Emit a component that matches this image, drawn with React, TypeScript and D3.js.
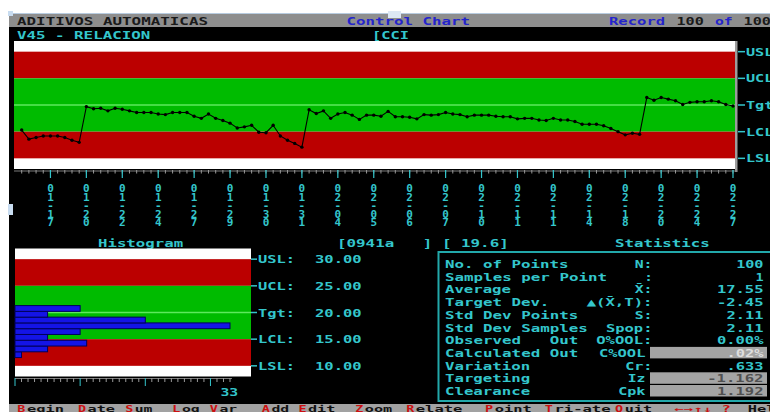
import React from "react";
import * as d3 from "d3";

// ---- Data ----
const values = [
  15.3, 13.6, 13.9, 14.2, 14.2, 14.2, 13.9, 13.4, 13.0, 19.7,
  19.3, 19.4, 18.9, 19.4, 19.2, 18.9, 18.6, 18.6, 18.6, 18.3,
  18.2, 18.6, 18.6, 18.6, 17.9, 17.5, 18.3, 17.5, 17.1, 16.6,
  15.7, 15.9, 16.2, 14.9, 14.8, 16.2, 14.2, 13.4, 12.8, 12.1,
  19.1, 18.4, 18.9, 17.5, 18.3, 18.6, 18.1, 17.3, 18.1, 18.1,
  17.9, 18.8, 17.8, 17.8, 17.7, 17.4, 18.2, 18.1, 18.2, 18.6,
  18.3, 18.2, 17.8, 18.1, 18.1, 18.1, 17.9, 17.8, 17.8, 17.4,
  17.5, 17.5, 17.2, 17.1, 17.5, 17.2, 17.2, 16.9, 16.4, 16.4,
  16.4, 16.1, 15.6, 15.0, 14.4, 14.7, 14.5, 21.4, 20.9, 21.4,
  21.1, 20.8, 20.1, 20.5, 20.6, 20.6, 20.8, 20.6, 20.1, 19.8,
];

const dateLabels = [
  "01-17", "01-20", "01-22", "01-24", "01-27", "01-29", "01-30", "01-31", "02-04", "02-05",
  "02-06", "02-07", "02-10", "02-11", "02-11", "02-14", "02-18", "02-20", "02-24", "02-27",
];
const labelEvery = 5;

const limitNames = ["USL", "UCL", "Tgt", "LCL", "LSL"];
const limitValues = [30, 25, 20, 15, 10];

// histogram: bins from low to high value
const histStart = 11.55;
const histBinWidth = 1.083;
const histCounts = [1, 5, 11, 5, 10, 33, 20, 5, 10];
const histMax = 33;

const statLabels = [
  "No. of Points", "Samples per Point", "Average", "Target Dev.", "Std Dev Points",
  "Std Dev Samples", "Observed   Out", "Calculated Out", "Variation", "Targeting", "Clearance",
];
const statSymbols = ["N:", ":", "X\u0304:", "\u25B2(X\u0304,T):", "S:", "Spop:", "O%OOL:", "C%OOL", "Cr:", "Iz", "Cpk"];
const statSymbolLen = [2, 1, 2, 7, 2, 5, 6, 5, 3, 2, 3];
const statValues = ["100", "1", "17.55", "-2.45", "2.11", "2.11", "0.00%", ".02%", ".633", "-1.162", "1.192"];
const statBoxed = [false, false, false, false, false, false, false, true, false, true, true];

const menuItems = ["Begin", "Date", "Sum", "Log", "Var", "Add", "Edit", "Zoom", "Relate", "Point", "Tri-ate", "Quit"];
const menuCols = [1.8, 8.1, 13, 17.9, 21.8, 27.2, 31, 36.9, 42.2, 50.4, 56.6, 63.9];

// ---- Styling ----
const CW = 9.625;
const CYAN = "#34c6cc";
const RED = "#bb0000";
const GREEN = "#00bb00";
const TGT = "#5ee85e";
const FONT = "'DejaVu Sans Mono', 'Liberation Mono', monospace";

type TProps = { x: number; y: number; s: string; fill?: string; n?: number; size?: number };
function T({ x, y, s, fill = CYAN, n, size = 11 }: TProps) {
  const len = (n ?? s.length) * CW - 1.5;
  return (
    <text
      x={x}
      y={y}
      fill={fill}
      fontFamily={FONT}
      fontWeight="bold"
      fontSize={size}
      textLength={len}
      lengthAdjust="spacingAndGlyphs"
      style={{ whiteSpace: "pre" }}
    >
      {s}
    </text>
  );
}

function Bands({ x0, x1, y }: { x0: number; x1: number; y: d3.ScaleLinear<number, number> }) {
  const w = x1 - x0;
  return (
    <g>
      <rect x={x0} y={y(32)} width={w} height={y(8) - y(32)} fill="#ffffff" />
      <rect x={x0} y={y(30)} width={w} height={y(25) - y(30)} fill={RED} />
      <rect x={x0} y={y(25)} width={w} height={y(15) - y(25)} fill={GREEN} />
      <rect x={x0} y={y(15)} width={w} height={y(10) - y(15)} fill={RED} />
      <line x1={x0} x2={x1} y1={y(20)} y2={y(20)} stroke={TGT} strokeWidth={1.5} />
    </g>
  );
}

export default function App() {
  const W = 770;
  const H = 412;

  // main control chart
  const px0 = 14;
  const px1 = 735;
  const x = d3.scaleLinear().domain([0, values.length - 1]).range([21.7, 733]);
  const y = d3.scaleLinear().domain([8, 32]).range([169, 41]);
  const line = d3
    .line<number>()
    .x((_, i) => x(i))
    .y((d) => y(d));

  // histogram
  const hx0 = 15;
  const hx1 = 251;
  const hy = d3.scaleLinear().domain([8, 32]).range([376.5, 248.5]);
  const hx = d3.scaleLinear().domain([0, histMax]).range([hx0, 230]);
  const countTicks = d3.range(0, histMax + 1);

  const labelIdx = dateLabels.map((_, k) => (k + 1) * labelEvery - 1);

  const statRowY = (i: number) => 264 + 12.7 * i;

  return (
    <svg
      width={W}
      height={H}
      style={{ position: "absolute", left: 0, top: 0, display: "block" }}
      xmlns="http://www.w3.org/2000/svg"
    >
      <rect x={0} y={0} width={W} height={H} fill="#ffffff" />
      <rect x={9} y={13} width={W - 9} height={H - 13} fill="#000000" />

      {/* title bar */}
      <rect x={9} y={13} width={W - 9} height={14} fill="#8e8e8e" />
      <line x1={9} x2={W} y1={13.5} y2={13.5} stroke="#b8cce0" strokeWidth={1} />
      <rect x={8} y={11} width={5} height={5} fill="#c8dcf0" />
      <T x={17} y={25} s="ADITIVOS AUTOMATICAS" fill="#1a1a1a" />
      <T x={346.5} y={25} s="Control Chart" fill="#2424cc" />
      <rect x={388} y={11} width={13} height={7} fill="#dde8f4" />
      <T x={609} y={25} s="Record" fill="#2424cc" />
      <T x={676.4} y={25} s="100" fill="#1a1a1a" />
      <T x={715} y={25} s="of" fill="#2424cc" />
      <T x={743.6} y={25} s="100" fill="#1a1a1a" />

      {/* subtitle */}
      <T x={17} y={39} s="V45 - RELACION" />
      <T x={372} y={39} s="[CCI" />

      {/* main chart */}
      <Bands x0={px0} x1={px1} y={y} />
      <rect x={735} y={41} width={2.5} height={131} fill="#9c9c9c" />
      <path d={line(values) ?? ""} fill="none" stroke="#000" strokeWidth={1.1} />
      {values.map((v, i) => (
        <circle key={i} cx={x(i)} cy={y(v)} r={1.7} fill="#000" />
      ))}

      {/* limit labels at right */}
      {limitNames.map((n, i) => (
        <g key={n}>
          <line x1={738} x2={745} y1={y(limitValues[i])} y2={y(limitValues[i])} stroke={CYAN} strokeWidth={1.5} />
          <T x={746} y={y(limitValues[i]) + 4} s={n} />
        </g>
      ))}

      {/* x ruler */}
      <line x1={px0} x2={737} y1={171} y2={171} stroke="#7a7a7a" strokeWidth={1} />
      {values.map((_, i) => (
        <line key={i} x1={x(i)} x2={x(i)} y1={170} y2={173.5} stroke="#9a9a9a" strokeWidth={1} />
      ))}
      {labelIdx.map((i) => (
        <line key={i} x1={x(i)} x2={x(i)} y1={170} y2={178} stroke={CYAN} strokeWidth={1.2} />
      ))}
      {dateLabels.map((lab, k) => (
        <text
          key={k}
          x={x(labelIdx[k])}
          y={182}
          fill={CYAN}
          fontFamily={FONT}
          fontWeight="bold"
          fontSize={11}
          textLength={47}
          lengthAdjust="spacing"
          style={{ writingMode: "vertical-rl", textOrientation: "upright" } as React.CSSProperties}
        >
          {lab}
        </text>
      ))}
      <rect x={8} y={204} width={5} height={11} fill="#c8dcf0" />

      {/* headers */}
      <T x={98} y={247} s="Histogram" />
      <T x={337} y={247} s="[0941a   ] [ 19.6]" />
      <T x={615} y={247} s="Statistics" />

      {/* histogram */}
      <Bands x0={hx0} x1={hx1} y={hy} />
      {histCounts.map((c, i) => {
        const lo = histStart + i * histBinWidth;
        const hi = lo + histBinWidth;
        return (
          <rect
            key={i}
            x={hx(0)}
            y={hy(hi)}
            width={hx(c) - hx(0)}
            height={hy(lo) - hy(hi)}
            fill="#1414e6"
            stroke="#00005a"
            strokeWidth={1}
          />
        );
      })}
      <line x1={hx0} x2={232} y1={378.5} y2={378.5} stroke="#7a7a7a" strokeWidth={1} />
      {countTicks.map((c) => (
        <line
          key={c}
          x1={hx(c)}
          x2={hx(c)}
          y1={378}
          y2={c % 10 === 0 ? 386 : 382}
          stroke={c % 10 === 0 ? CYAN : "#9a9a9a"}
          strokeWidth={1}
        />
      ))}
      <T x={hx(histMax) - CW} y={396} s={String(histMax)} />

      {limitNames.map((n, i) => (
        <g key={n}>
          <line x1={251} x2={257} y1={hy(limitValues[i])} y2={hy(limitValues[i])} stroke={CYAN} strokeWidth={1.5} />
          <T x={258} y={hy(limitValues[i]) + 4} s={n + ":"} />
          <T x={315} y={hy(limitValues[i]) + 4} s={limitValues[i].toFixed(2)} />
        </g>
      ))}

      {/* statistics box */}
      <rect x={438.5} y={252} width={340} height={149} fill="none" stroke="#22a8aa" strokeWidth={2} />
      {statLabels.map((lab, i) => {
        const cy = statRowY(i);
        const symLen = statSymbolLen[i];
        const symEnd = statBoxed[i] ? 647 : 654;
        return (
          <g key={i}>
            <T x={445} y={cy + 4} s={lab} />
            <T x={symEnd - symLen * CW} y={cy + 4} s={statSymbols[i]} n={symLen} />
            {statBoxed[i] && <rect x={650} y={cy - 6} width={117} height={11.5} fill="#a4a4a4" />}
            <T
              x={765 - statValues[i].length * CW}
              y={cy + 4}
              s={statValues[i]}
              fill={statBoxed[i] ? (i === 7 ? "#dedede" : "#505050") : CYAN}
            />
          </g>
        );
      })}

      {/* menu bar */}
      <rect x={9} y={404} width={W - 9} height={8} fill="#a2a2a2" />
      {menuItems.map((m, i) => (
        <g key={m}>
          <T x={menuCols[i] * CW} y={411.5} s={m[0]} fill="#cc1010" size={8} />
          <T x={(menuCols[i] + 1) * CW} y={411.5} s={m.slice(1)} fill="#111" size={8} />
        </g>
      ))}
      <T x={70.1 * CW} y={411.5} s={"\u2190\u2192\u2191\u2193 ?"} fill="#cc1010" size={8} />
      <T x={77.7 * CW} y={411.5} s="Help" fill="#111" size={8} n={4} />
    </svg>
  );
}
